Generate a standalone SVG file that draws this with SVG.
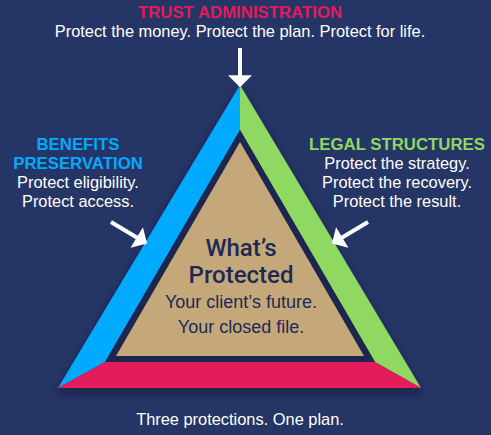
<svg xmlns="http://www.w3.org/2000/svg" width="491" height="435" viewBox="0 0 491 435">
<defs>
<style>
.t{font-family:"Liberation Sans",Arial,sans-serif;text-anchor:middle}
.h{font-weight:bold;font-size:16.8px}
.w{fill:#ffffff;font-size:16.4px}
.c{fill:#1c2a55}
.m{font-family:Roboto,"Liberation Sans",sans-serif;font-weight:500;font-size:24px}
.arr{stroke:#ffffff;stroke-width:4;fill:none}
</style>
<marker id="ah" viewBox="0 0 10 20" refX="9" refY="10" markerWidth="3.2" markerHeight="6" orient="auto" markerUnits="strokeWidth">
<path d="M0,0 L10,10 L0,20 z" fill="#ffffff"/>
</marker>
<filter id="sh" x="-20%" y="-20%" width="140%" height="160%">
<feDropShadow dx="0" dy="5" stdDeviation="5" flood-color="#0b1430" flood-opacity="0.6"/>
</filter>
</defs>
<rect width="491" height="435" fill="#253565"/>
<g id="triangle" filter="url(#sh)">
<polygon points="240,85 58,388 105,362 240,130" fill="#00aaff"/>
<polygon points="240,85 421,388 375,362 240,130" fill="#8fd862"/>
<polygon points="58,388 421,388 375,362 105,362" fill="#e31a5c"/>
<polygon points="240,130 105,362 375,362" fill="#1a2650"/>
</g>
<g id="center">
<polygon points="240,142 116,356 364,356" fill="#c5a879"/>
<text class="t c m" x="241" y="256">What’s</text>
<text class="t c m" x="241" y="283">Protected</text>
<text class="t c" x="241" y="308" font-size="18">Your client’s future.</text>
<text class="t c" x="241" y="333" font-size="18">Your closed file.</text>
</g>
<g id="connectors">
<line class="arr" x1="240" y1="48" x2="240" y2="86" marker-end="url(#ah)"/>
<line class="arr" x1="111" y1="222" x2="146" y2="243" marker-end="url(#ah)"/>
<line class="arr" x1="368" y1="222" x2="333" y2="243" marker-end="url(#ah)"/>
</g>
<g id="trust">
<text class="t h" x="240" y="18" fill="#e31a5c">TRUST ADMINISTRATION</text>
<text class="t w" x="240" y="37">Protect the money. Protect the plan. Protect for life.</text>
</g>
<g id="benefits">
<text class="t h" x="78" y="150" fill="#00aaff">BENEFITS</text>
<text class="t h" x="78" y="169" fill="#00aaff">PRESERVATION</text>
<text class="t w" x="78" y="188">Protect eligibility.</text>
<text class="t w" x="78" y="207">Protect access.</text>
</g>
<g id="legal">
<text class="t h" x="397" y="150" fill="#8fd862">LEGAL STRUCTURES</text>
<text class="t w" x="397" y="169">Protect the strategy.</text>
<text class="t w" x="397" y="188">Protect the recovery.</text>
<text class="t w" x="397" y="207">Protect the result.</text>
</g>
<g id="footer">
<text class="t w" x="240" y="425" font-size="17.4">Three protections. One plan.</text>
</g>
</svg>
